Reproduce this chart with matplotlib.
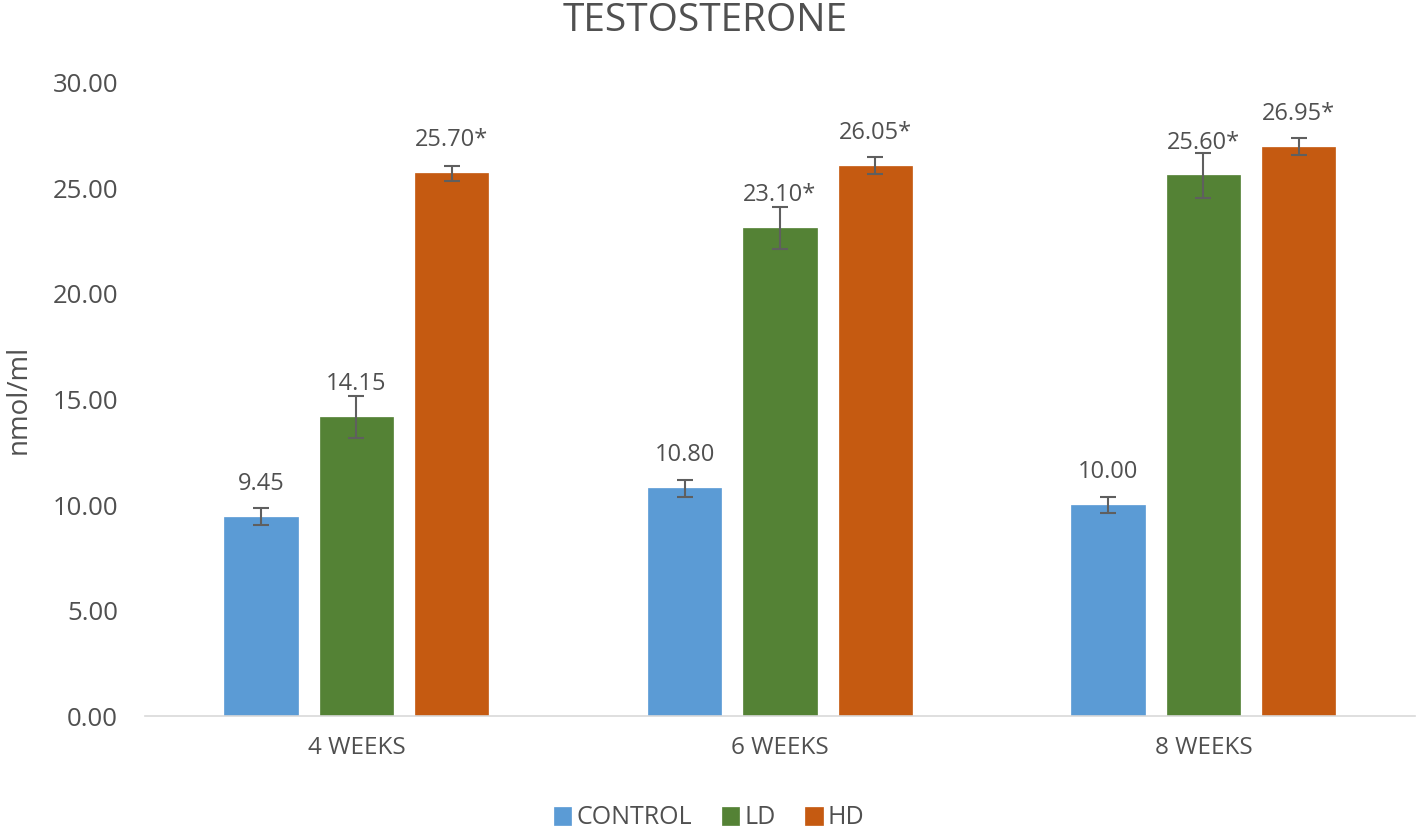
import matplotlib.pyplot as plt
import numpy as np

plt.rcParams['font.family'] = ['Open Sans', 'DejaVu Sans']

groups = ["4 WEEKS", "6 WEEKS", "8 WEEKS"]
series = ["CONTROL", "LD", "HD"]
control = [9.45, 10.80, 10.00]
ld = [14.15, 23.10, 25.60]
hd = [25.70, 26.05, 26.95]
control_err = [0.4, 0.4, 0.4]
ld_err = [1.0, 1.0, 1.05]
hd_err = [0.35, 0.4, 0.4]
control_lab = ["9.45", "10.80", "10.00"]
ld_lab = ["14.15", "23.10*", "25.60*"]
hd_lab = ["25.70*", "26.05*", "26.95*"]

colors = ["#5B9BD5", "#548235", "#C55A11"]
txt = "#505050"

fig = plt.figure(figsize=(14.18, 8.32), dpi=100)
ax = fig.add_axes([0.102, 0.139, 0.896, 0.762])

x = np.arange(len(groups))
w = 0.173
step = 0.225
data = [control, ld, hd]
errs = [control_err, ld_err, hd_err]
labs = [control_lab, ld_lab, hd_lab]
for i in range(3):
    xs = x + (i - 1) * step
    bars = ax.bar(xs, data[i], w, color=colors[i], label=series[i],
                  edgecolor=colors[i], linewidth=0.5)
    ax.errorbar(xs, data[i], yerr=errs[i], fmt='none', ecolor='#5f5f5f',
                elinewidth=1.5, capsize=6, capthick=1.5)
    for b, s in zip(bars, labs[i]):
        ax.annotate(s, (b.get_x() + b.get_width() / 2, b.get_height()),
                    xytext=(0, 15), textcoords='offset points',
                    ha='center', va='bottom', fontsize=17, color=txt)

ax.set_xlim(-0.5, 2.5)
ax.set_ylim(0, 30)
ax.set_yticks(np.arange(0, 31, 5))
ax.set_yticklabels(["%.2f" % v for v in np.arange(0, 31, 5)])
ax.set_xticks(x)
ax.set_xticklabels(groups)
ax.tick_params(axis='both', length=0, colors=txt)
ax.tick_params(axis='x', pad=14, labelsize=17.5)
ax.tick_params(axis='y', pad=19, labelsize=18.5)
for s in ['top', 'right', 'left']:
    ax.spines[s].set_visible(False)
ax.spines['bottom'].set_color('#D9D9D9')
ax.spines['bottom'].set_linewidth(1.2)

fig.text(19 / 1418, 1 - 399 / 832, "nmol/ml", rotation=90, ha='center',
         va='center', fontsize=20, color=txt)
fig.text(0.497, 1 - 21 / 832, "TESTOSTERONE", ha='center', va='center',
         fontsize=28, color=txt)

fig.legend(loc='center', ncol=3, frameon=False, fontsize=18,
           handlelength=0.7, handleheight=0.7, handletextpad=0.2,
           columnspacing=1.2, labelcolor=txt,
           bbox_to_anchor=(0.5, 1 - 818 / 832))

fig.savefig("out.png", dpi=100)
